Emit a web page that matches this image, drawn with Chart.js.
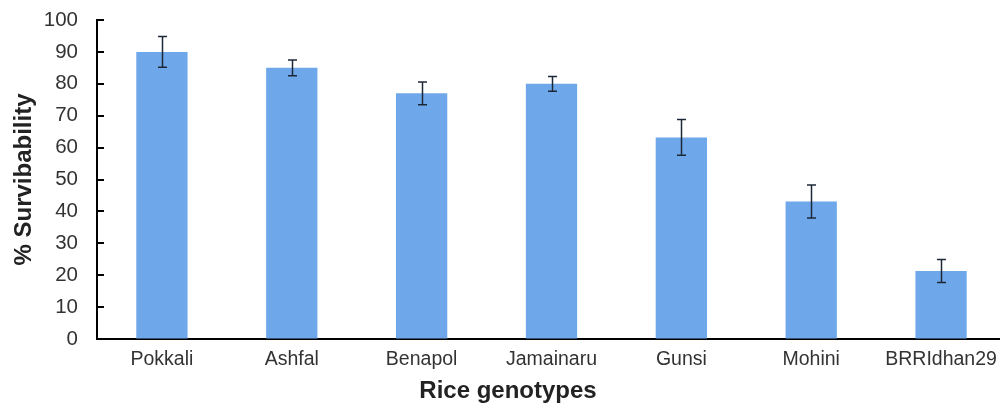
<!DOCTYPE html>
<html>
<head>
<meta charset="utf-8">
<script src="https://cdn.jsdelivr.net/npm/chart.js@4.4.1/dist/chart.umd.min.js"></script>
<style>
  html, body { margin: 0; padding: 0; background: #fff; overflow: hidden; width: 1000px; height: 403px; }
  canvas { display: block; }
</style>
</head>
<body>
<canvas id="c" width="1006" height="403" style="width:1006px;height:403px"></canvas>
<script>
const categories = ["Pokkali", "Ashfal", "Benapol", "Jamainaru", "Gunsi", "Mohini", "BRRIdhan29"];
const survivability = [90, 85, 77, 80, 63.2, 43.1, 21.3];
const errors = [4.8, 2.5, 3.6, 2.3, 5.6, 5.2, 3.6];
const yTicks = [0, 10, 20, 30, 40, 50, 60, 70, 80, 90, 100];

const FONT = "'Liberation Sans', Arial, sans-serif";

const extras = {
  id: 'extras',
  afterDatasetsDraw(chart) {
    const ctx = chart.ctx;
    const y = chart.scales.y;
    const meta = chart.getDatasetMeta(0);
    ctx.save();
    ctx.strokeStyle = '#1c2838';
    ctx.lineWidth = 1.5;
    meta.data.forEach((bar, i) => {
      const v = survivability[i], e = errors[i];
      const cx = Math.round(bar.x) + 0.5;
      const yt = y.getPixelForValue(v + e);
      const yb = y.getPixelForValue(v - e);
      ctx.beginPath();
      ctx.moveTo(cx, yt); ctx.lineTo(cx, yb);
      ctx.moveTo(cx - 4.5, yt); ctx.lineTo(cx + 4.5, yt);
      ctx.moveTo(cx - 4.5, yb); ctx.lineTo(cx + 4.5, yb);
      ctx.stroke();
    });
    ctx.strokeStyle = '#000';
    ctx.lineWidth = 2;
    yTicks.forEach(t => {
      const py = Math.round(y.getPixelForValue(t));
      ctx.beginPath();
      ctx.moveTo(chart.chartArea.left, py);
      ctx.lineTo(chart.chartArea.left + 7, py);
      ctx.stroke();
    });
    ctx.restore();
  }
};

new Chart(document.getElementById('c'), {
  type: 'bar',
  data: {
    labels: categories,
    datasets: [{
      data: survivability,
      backgroundColor: '#6ea8eb',
      borderWidth: 0,
      barPercentage: 0.395,
      categoryPercentage: 1.0
    }]
  },
  options: {
    responsive: false,
    animation: false,
    devicePixelRatio: 1,
    layout: { padding: { left: 10, right: 0, top: 20, bottom: 0 } },
    plugins: {
      legend: { display: false },
      tooltip: { enabled: false },
      title: {
        display: true,
        position: 'bottom',
        text: 'Rice genotypes',
        color: '#222',
        font: { family: FONT, size: 24, weight: 'bold', lineHeight: 1.0 },
        padding: { top: 0, bottom: 0 }
      }
    },
    scales: {
      x: {
        offset: true,
        grid: { display: false, drawTicks: false },
        border: { display: true, color: '#000', width: 2 },
        ticks: {
          color: '#333',
          font: { family: FONT, size: 19.5 },
          padding: 9,
          maxRotation: 0,
          autoSkip: false
        },
        afterFit(scale) { scale.height = 40; }
      },
      y: {
        min: 0,
        max: 100,
        afterBuildTicks(scale) { scale.ticks = yTicks.map(v => ({ value: v })); },
        grid: { display: true, drawOnChartArea: false, drawTicks: true, tickLength: 15, tickColor: 'rgba(0,0,0,0)' },
        border: { display: true, color: '#000', width: 2 },
        ticks: {
          color: '#333',
          font: { family: FONT, size: 20.5 },
          padding: 4
        },
        title: {
          display: true,
          text: '% Survibability',
          color: '#222',
          font: { family: FONT, size: 24, weight: 'bold', lineHeight: 1.2 },
          padding: { top: 0, bottom: 0 }
        },
        afterFit(scale) { scale.width = 87; }
      }
    }
  },
  plugins: [extras]
});
</script>
</body>
</html>
